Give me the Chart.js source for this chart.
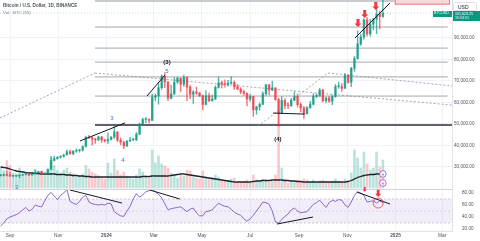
<!DOCTYPE html>
<html><head><meta charset="utf-8">
<script src="https://cdn.jsdelivr.net/npm/chart.js@4/dist/chart.umd.min.js"></script>
<style>
html,body{margin:0;padding:0;background:#fff;overflow:hidden}
#wrap{position:relative;width:480px;height:241px;font-family:"Liberation Sans",Arial,sans-serif}
canvas{display:block}
.t{position:absolute;white-space:nowrap;line-height:1}
</style></head><body>
<div id="wrap">
<canvas id="c" width="480" height="241"></canvas>
<div class="t" style="left:3px;top:4px;font-size:4.6px;font-weight:bold;color:#50535e">Bitcoin / U.S. Dollar, 1D, BINANCE</div>
<div class="t" style="left:3px;top:11px;font-size:4.4px;color:#787b86">Vol · BTC (55)</div>
<div class="t" style="left:453px;top:2px;width:24px;height:9px;border:1px solid #e0e3eb;border-radius:2px;background:#fff;font-size:5px;color:#131722;box-sizing:border-box;padding:2px 0 0 4px">USD</div>
<div class="t" style="left:433px;top:11px;width:19px;height:6px;background:#089981;color:#fff;font-size:3.6px;padding:1px 0 0 1px;box-sizing:border-box">BTCUSD</div>
<div class="t" style="left:453px;top:11px;width:27px;height:10px;background:#089981;color:#fff;font-size:3.6px;padding:1px 0 0 2px;box-sizing:border-box;line-height:4.2px">101,623.25<br>19:53:51</div>
</div>
<script>
// ---- data (day offsets from 2023-09-01, prices in thousand USD) ----
const days=[-12,-8,-4,0,4,8,12,16,20,24,28,32,36,40,44,48,52,56,60,64,68,72,76,80,84,88,92,96,100,104,108,112,116,120,124,128,132,136,140,144,148,152,156,160,164,168,172,176,180,184,188,192,196,200,204,208,212,216,220,224,228,232,236,240,244,248,252,256,260,264,268,272,276,280,284,288,292,296,300,304,308,312,316,320,324,328,332,336,340,344,348,352,356,360,364,368,372,376,380,384,388,392,396,400,404,408,412,416,420,424,428,432,436,440,444,448,452,456,460,464,468,472];
const firstOpenK=26.0;
const closeK=[26.1,26.2,26.1,25.8,25.8,25.9,26.2,26.5,26.6,26.3,
 26.9,27.4,27.9,26.9,27.1,28.7,33.0,33.9,34.6,35.0,
 35.6,37.1,36.2,37.4,37.7,37.8,39.5,43.8,43.7,43.0,
 42.6,44.0,42.5,42.1,42.8,43.9,46.3,42.5,41.6,39.8,
 42.1,42.6,42.6,45.3,50.0,52.1,52.2,51.7,62.5,63.1,
 66.9,72.1,69.5,62.0,64.0,69.5,71.3,68.5,71.6,67.2,
 63.8,64.9,64.3,63.1,59.1,63.1,60.8,61.6,67.0,69.2,
 68.5,68.4,69.0,69.3,67.3,66.2,65.0,64.3,61.6,62.8,
 56.6,58.0,59.2,64.1,68.2,65.8,66.8,61.4,55.1,60.9,
 58.7,58.5,61.1,62.8,59.0,57.5,54.8,57.6,59.2,62.9,
 63.3,65.8,60.8,62.1,60.6,62.8,67.4,67.4,66.6,72.7,
 69.4,75.9,80.4,87.3,90.5,98.4,91.9,96.4,98.8,101.1,
 100.0,101.6];
const highK=[26.6,26.8,28.1,27.5,26.1,26.0,26.5,26.8,27.5,26.8,
 27.2,28.5,28.1,28.0,27.3,28.9,35.0,35.1,34.8,35.3,
 36.0,37.9,37.9,37.5,38.4,38.2,39.9,44.4,44.7,44.0,
 43.4,44.3,44.3,43.0,45.9,44.2,49.0,46.5,43.5,41.9,
 42.3,43.8,43.4,46.0,50.4,52.8,53.0,52.4,64.0,63.9,
 69.2,72.9,73.8,69.9,68.1,71.6,71.8,71.4,72.8,72.0,
 68.0,65.5,67.2,64.8,63.4,65.5,64.4,63.5,67.7,71.9,
 70.0,70.6,70.3,71.9,70.0,68.4,66.9,65.8,64.5,63.8,
 63.0,58.3,59.8,65.1,68.4,68.4,70.0,66.9,62.0,62.7,
 61.8,59.9,61.9,65.0,64.0,59.8,58.2,58.1,60.6,64.1,
 64.1,66.5,66.1,62.5,63.0,63.4,68.4,69.5,68.8,73.6,
 73.0,76.4,81.5,93.4,91.8,99.0,99.6,98.7,99.0,103.9,
 102.5,108.3];
const lowK=[25.7,25.8,25.9,25.6,25.4,25.5,24.9,26.0,26.3,26.0,
 26.2,26.9,27.2,26.6,26.5,26.8,29.5,32.8,33.6,34.1,
 34.6,35.5,35.8,35.6,36.8,36.9,37.5,39.3,43.2,40.2,
 41.0,42.3,41.4,41.5,40.8,42.6,43.3,41.8,40.3,38.5,
 39.5,41.8,42.2,42.3,45.0,49.8,50.6,50.5,51.5,60.8,
 59.2,66.1,66.9,60.8,61.7,63.8,68.9,65.0,67.5,60.7,
 61.8,59.6,63.8,62.8,56.5,58.9,60.4,60.6,61.4,66.6,
 66.8,67.1,67.6,68.6,66.1,65.9,64.1,63.4,58.4,60.6,
 53.5,54.5,56.4,58.9,63.3,63.5,65.5,61.0,49.0,54.7,
 57.0,57.1,58.2,60.8,57.9,55.6,52.5,54.6,57.2,58.9,
 62.1,62.8,60.3,59.8,60.0,58.9,62.4,66.6,65.1,66.5,
 69.0,67.4,74.5,80.2,86.6,89.4,90.8,90.8,93.8,92.0,
 94.2,99.6];
const volK=[40,35,55,45,30,28,40,25,30,28,
 32,38,30,34,25,40,62,45,35,30,
 36,40,32,28,22,24,28,45,38,32,
 28,25,20,18,50,30,58,35,26,32,
 24,20,18,26,38,32,24,20,76,50,
 64,48,44,40,30,26,20,28,24,36,
 34,22,20,18,34,22,18,20,26,22,
 14,14,16,18,20,12,10,12,16,14,
 26,16,12,18,16,12,14,26,152,40,
 18,10,14,14,16,12,18,16,12,16,
 10,14,16,12,12,14,18,14,12,18,
 14,30,76,60,40,72,48,36,40,72,
 42,56];
const volMaK=[42,41,40,38,36,34,33,32,31,30,
 30,29,29,28,28,28,28,28,27,27,
 27,26,26,25,25,24,24,23,23,22,
 22,22,22,22,22,22,22,22,22,22,
 22,22,22,22,22,23,23,23,24,24,
 24,24,24,24,25,26,27,28,28,27,
 26,25,24,23,22,21,20,19,18,17,
 16,15,14,13,12,12,12,12,12,12,
 13,14,14,15,15,15,16,16,16,16,
 15,15,14,14,13,13,12,12,12,12,
 12,12,12,12,12,12,12,12,12,12,
 13,15,18,21,23,25,26,27,27,28,
 28,28];
const rsi=[25,30,37,40,42,44,47,52,56,50,
 53,60,58,57,67,76,81,75,69,76,
 80,86,66,63,61,66,73,76,65,62,
 61,60,61,60,63,62,49,45,42,41,
 50,58,70,79,73,77,82,84,85,82,
 78,72,62,52,54,55,56,57,53,49,
 53,55,47,42,42,49,50,52,58,63,
 60,58,57,53,48,45,43,37,33,37,
 43,50,57,65,64,61,50,32,30,36,
 41,45,52,55,50,47,48,49,55,61,
 64,68,62,56,64,68,66,69,68,60,
 56,65,76,82,80,76,65,66,67,63,
 67,64];
const monthTicks=[0,61,122,182,243,304,366,427,488,547];
const monthLabels=['Sep','Nov','2024','Mar','May','Jul','Sep','Nov','2025','Mar'];
const priceTicks=[30000,40000,50000,60000,70000,80000,90000];
const rsiTicks=[20,40,60,80];
const lastPrice=101600;
// drawings (day, price) pairs
const fibLevels=[95100,85300,78800,71900,63000];
const fibRange=[107.6,554];
const topLevel=[107200,107.6,487];
const baseLevel=[49500,107.6,559.5];
const trendLines=[[88.6,42100,145.6,50500],[173.4,63000,196.2,72800],[333,55100,373,54600],[436.7,90000,481,106300]];
const dashLines=[[-12.7,52800,107.6,73700],[107.6,73700,559.5,58800],[314,49100,402.5,73700],[402.5,73700,559.5,67700]];
const rsiLines=[[75.9,85,141.8,63.3],[177,85,215,70],[338,28.3,383.5,40],[439,81.7,481,61.7]];
const waveLabels=[['(3)',198.7,78600,'#131722',true],['5',198.7,74700,'#3a6fe6',false],['(4)',339,42800,'#131722',true],['3',129,52400,'#3a6fe6',false],['4',143,33300,'#3a6fe6',false],['2',8.9,20700,'#3a6fe6',false]];
const sellArrows=[[440.5,95100],[449,99300],[463,103000]];
const rsiArrows=[[449,82],[466,73.5]];
const rsiCircle=[466,63.3];
const volMarks=[[472,28],[472,10]];
const targetBox=[487,557,105500,108500];

// ---- build ----
const UP='rgba(8,153,129,0.72)',DN='rgba(242,54,69,0.72)';
const opens=closeK.map((c,i)=>i===0?firstOpenK:closeK[i-1]);
const isUp=closeK.map((c,i)=>c>=opens[i]);
const cCol=isUp.map(u=>u?UP:DN);
const vCol=isUp.map(u=>u?'rgba(8,153,129,0.28)':'rgba(242,54,69,0.28)');
const K=1000;
function seg(a,b,c,d){return [{x:a,y:b},{x:c,y:d}];}
const lineDs=(data,axis,color,w,dash,order)=>({type:'line',data,yAxisID:axis,borderColor:color,borderWidth:w,borderDash:dash||[],pointRadius:0,fill:false,order:order||3,tension:0});
const X0=-12.66,X1=559.5;
const datasets=[
 {type:'bar',data:days.map((d,i)=>({x:d,y:volK[i]})),yAxisID:'yv',backgroundColor:vCol,barThickness:2,grouped:false,order:20},
 {type:'line',data:days.map((d,i)=>({x:d,y:volMaK[i]})),yAxisID:'yv',borderColor:'#1e222d',borderWidth:1.3,pointRadius:0,tension:0.4,order:15},
 {type:'line',data:seg(X0,70,X1,70),yAxisID:'yr',borderColor:'rgba(120,123,134,0.5)',borderWidth:0.7,borderDash:[2,2],pointRadius:0,fill:'+1',backgroundColor:'rgba(126,87,194,0.1)',order:18},
 {type:'line',data:seg(X0,30,X1,30),yAxisID:'yr',borderColor:'rgba(120,123,134,0.5)',borderWidth:0.7,borderDash:[2,2],pointRadius:0,fill:false,order:18},
 {type:'line',data:seg(X0,50,X1,50),yAxisID:'yr',borderColor:'rgba(120,123,134,0.3)',borderWidth:0.7,borderDash:[2,2],pointRadius:0,fill:false,order:18},
 {type:'line',data:days.map((d,i)=>({x:d,y:rsi[i]})),yAxisID:'yr',borderColor:'#7e57c2',borderWidth:0.9,pointRadius:0,tension:0,order:2},
 lineDs(seg(X0,lastPrice,X1,lastPrice),'y','rgba(8,153,129,0.35)',0.8,[1,2],19),
];
fibLevels.forEach(p=>datasets.push(lineDs(seg(fibRange[0],p,fibRange[1],p),'y','#a3a6af',1,null,12)));
datasets.push(lineDs(seg(topLevel[1],topLevel[0],topLevel[2],topLevel[0]),'y','#9598a1',1.2,null,12));
datasets.push(lineDs(seg(baseLevel[1],baseLevel[0],baseLevel[2],baseLevel[0]),'y','#2a2e39',1.4,null,12));
dashLines.forEach(s=>datasets.push(lineDs(seg(s[0],s[1],s[2],s[3]),'y','#8d9099',0.8,[2,2],11)));
datasets.push({type:'bar',data:days.map((d,i)=>({x:d,y:[lowK[i]*K,highK[i]*K]})),yAxisID:'y',backgroundColor:cCol,barThickness:0.7,grouped:false,order:6});
datasets.push({type:'bar',data:days.map((d,i)=>({x:d,y:[opens[i]*K,closeK[i]*K]})),yAxisID:'y',backgroundColor:cCol,barThickness:1.8,minBarLength:0.8,grouped:false,order:5});
trendLines.forEach(s=>datasets.push(lineDs(seg(s[0],s[1],s[2],s[3]),'y','#131722',1,null,1)));
rsiLines.forEach(s=>datasets.push(lineDs(seg(s[0],s[1],s[2],s[3]),'yr','#131722',1,null,1)));

const fmt=v=>v.toLocaleString('en-US',{minimumFractionDigits:2,maximumFractionDigits:2});
const axisFont={family:'"Liberation Sans",Arial,sans-serif',size:4.6};
const deco={id:'deco',
 beforeDatasetsDraw(ch){
  const {ctx,scales:{x,y}}=ch;
  ctx.save();
  const bx0=x.getPixelForValue(targetBox[0]),bx1=x.getPixelForValue(targetBox[1]);
  const by0=y.getPixelForValue(targetBox[3]),by1=y.getPixelForValue(targetBox[2]);
  ctx.fillStyle='rgba(242,54,69,0.2)';ctx.fillRect(bx0,by0,bx1-bx0,by1-by0);
  ctx.strokeStyle='rgba(242,54,69,0.6)';ctx.lineWidth=1;ctx.strokeRect(bx0+0.5,by0+0.5,bx1-bx0-1,by1-by0-1);
  ctx.restore();
 },
 afterDatasetsDraw(ch){
  const {ctx,chartArea:ca,scales:{x,y,yr,yv}}=ch;
  ctx.save();
  ctx.strokeStyle='#d1d4dc';ctx.lineWidth=1;ctx.beginPath();ctx.moveTo(ca.left,Math.round(yr.top)+0.5);ctx.lineTo(ca.right,Math.round(yr.top)+0.5);ctx.stroke();
  ctx.textAlign='center';ctx.textBaseline='middle';
  waveLabels.forEach(w=>{ctx.fillStyle=w[3];ctx.font=(w[4]?'bold ':'')+'6px "Liberation Sans",Arial';ctx.fillText(w[0],x.getPixelForValue(w[1]),y.getPixelForValue(w[2]));});
  const arrow=(px,py,s)=>{ctx.fillStyle='#f23645';ctx.beginPath();
    ctx.moveTo(px,py);ctx.lineTo(px-3.5*s,py-3.5*s);ctx.lineTo(px-1.5*s,py-3.5*s);ctx.lineTo(px-1.5*s,py-8*s);
    ctx.lineTo(px+1.5*s,py-8*s);ctx.lineTo(px+1.5*s,py-3.5*s);ctx.lineTo(px+3.5*s,py-3.5*s);ctx.closePath();ctx.fill();};
  sellArrows.forEach(a=>arrow(x.getPixelForValue(a[0]),y.getPixelForValue(a[1]),1));
  rsiArrows.forEach((a,i)=>arrow(x.getPixelForValue(a[0]),yr.getPixelForValue(a[1]),i?0.9:0.6));
  ctx.strokeStyle='#f23645';ctx.lineWidth=0.8;ctx.beginPath();
  ctx.arc(x.getPixelForValue(rsiCircle[0]),yr.getPixelForValue(rsiCircle[1]),5,0,Math.PI*2);ctx.stroke();
  volMarks.forEach((m,i)=>{const px=x.getPixelForValue(m[0]),py=yv.getPixelForValue(m[1]);
    ctx.fillStyle='#fff';ctx.strokeStyle=i?'#ab47bc':'#7e57c2';ctx.lineWidth=0.8;ctx.beginPath();ctx.arc(px,py,3.3,0,Math.PI*2);ctx.fill();ctx.stroke();
    ctx.fillStyle=ctx.strokeStyle;ctx.font='bold 5px "Liberation Sans"';ctx.fillText('+',px,py+0.3);});
  ctx.restore();
 }};

new Chart(document.getElementById('c'),{
 data:{datasets},
 options:{responsive:false,animation:false,devicePixelRatio:1,events:[],
  layout:{padding:0,autoPadding:false},
  plugins:{legend:{display:false},tooltip:{enabled:false}},
  scales:{
   x:{type:'linear',min:X0,max:X1,position:'bottom',offset:false,
      afterBuildTicks:s=>{s.ticks=monthTicks.map(v=>({value:v}));},
      afterFit:s=>{s.height=10;s.paddingLeft=0;s.paddingRight=0;},
      ticks:{autoSkip:false,maxRotation:0,padding:2,color:'#50535e',
        font:c=>({family:'"Liberation Sans",Arial,sans-serif',size:4.8,weight:(c.tick&&(c.tick.value===122||c.tick.value===488))?'bold':'normal'}),
        callback:v=>monthLabels[monthTicks.indexOf(v)]},
      grid:{color:'#f0f3fa',drawTicks:false,offset:false},border:{display:true,color:'#e0e3eb'}},
   y:{type:'linear',position:'right',stack:'pane',stackWeight:189,min:19767,max:107674,
      afterBuildTicks:s=>{s.ticks=priceTicks.map(v=>({value:v}));},
      afterFit:s=>{s.width=28;s.paddingTop=0;s.paddingBottom=0;},
      ticks:{autoSkip:false,padding:2,color:'#50535e',font:axisFont,callback:v=>fmt(v)},
      grid:{color:'#f0f3fa',drawTicks:false},border:{display:true,color:'#e0e3eb'}},
   yr:{type:'linear',position:'right',stack:'pane',stackWeight:42,min:16.7,max:86.7,
      afterBuildTicks:s=>{s.ticks=rsiTicks.map(v=>({value:v}));},
      afterFit:s=>{s.width=28;s.paddingTop=0;s.paddingBottom=0;},
      ticks:{autoSkip:false,padding:2,color:'#50535e',font:axisFont,callback:v=>fmt(v)},
      grid:{display:false},border:{display:true,color:'#e0e3eb'}},
   yv:{type:'linear',position:'left',display:false,min:-86,max:376}
  }},
 plugins:[deco]
});
</script>
</body></html>
